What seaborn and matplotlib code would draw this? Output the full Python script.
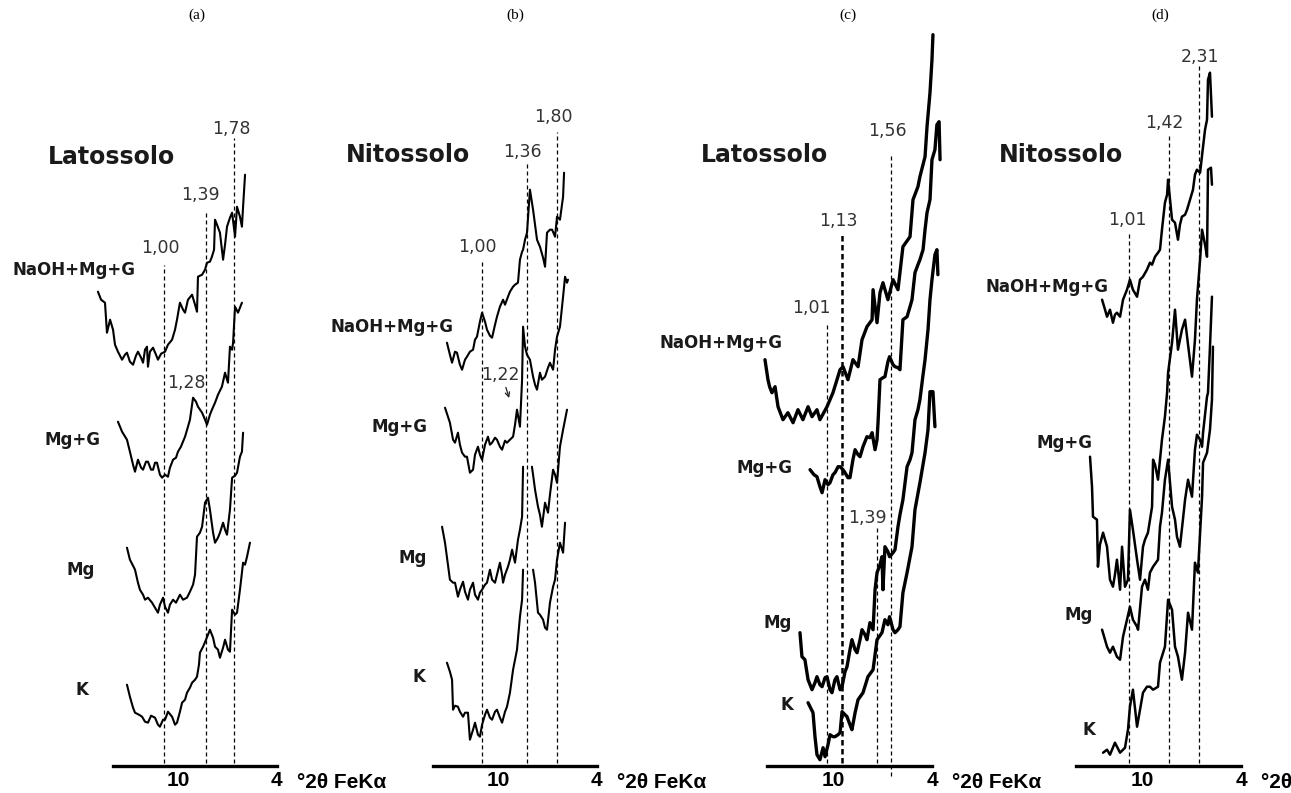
import matplotlib
matplotlib.use("Agg")
import matplotlib.pyplot as plt
import seaborn as sns
import pandas as pd

# ---------------- data (x = degrees 2theta FeKa, y = intensity, arbitrary units) -------------
# Panel (a) Latossolo
a_naoh_x = [14.90,14.71,14.47,14.35,14.16,13.98,13.86,13.68,13.43,13.25,13.13,12.95,12.76,12.58,12.46,12.27,12.15,12.03,11.91,11.85,
            11.73,11.54,11.36,11.24,11.05,10.81,10.63,10.38,10.20,10.08,9.90,9.71,9.59,9.41,9.16,8.98,8.86,8.80,8.55,8.37,
            8.25,8.07,7.95,7.82,7.76,7.64,7.46,7.27,7.15,7.03,6.85,6.72,6.54,6.42,6.24,6.12,6.05,5.93]
a_naoh_y = [474,466,463,433,446,436,421,414,406,411,413,404,401,410,414,408,403,416,419,399,
            414,418,411,406,412,414,421,426,436,446,463,456,453,466,471,461,454,489,491,496,
            503,504,509,516,546,541,533,506,521,539,548,553,529,559,549,539,559,591]
a_mgg_x = [13.68,13.43,13.13,12.95,12.76,12.64,12.46,12.27,12.15,11.97,11.85,11.66,11.54,11.42,11.30,11.12,10.99,10.81,10.63,10.51,
           10.32,10.14,10.02,9.84,9.59,9.41,9.29,9.10,8.92,8.80,8.55,8.37,8.25,8.07,7.95,7.76,7.58,7.34,7.15,7.03,
           6.97,6.85,6.72,6.66,6.54,6.36,6.24,6.12]
a_mgg_y = [344,334,326,314,301,294,306,298,296,304,304,296,296,303,303,291,288,291,289,298,
           306,308,314,319,329,339,346,368,364,359,353,346,341,351,356,363,371,379,393,386,
           383,419,416,423,459,453,458,463]
a_mg_x = [13.13,12.95,12.76,12.64,12.46,12.34,12.15,12.03,11.85,11.60,11.42,11.24,11.12,10.93,10.81,10.63,10.51,10.32,10.14,9.90,
          9.71,9.47,9.29,9.10,8.98,8.86,8.68,8.55,8.37,8.19,8.07,7.88,7.76,7.58,7.46,7.27,7.15,7.03,6.85,6.72,
          6.54,6.42,6.24,6.12,6.05]
a_mg_y = [218,206,200,196,183,176,171,166,168,163,158,153,161,168,159,153,161,166,163,171,
          166,168,174,181,191,229,233,239,263,268,256,233,223,228,233,243,236,231,256,288,
          290,293,309,314,333]
a_k_x = [13.13,12.95,12.76,12.64,12.40,12.21,12.03,11.85,11.66,11.42,11.24,11.12,10.93,10.81,10.63,10.38,10.20,10.08,9.90,9.77,
         9.59,9.47,9.29,9.16,8.98,8.86,8.74,8.68,8.49,8.31,8.07,7.88,7.76,7.58,7.46,7.27,7.15,6.97,6.85,6.72,
         6.54,6.42,6.24,6.05,5.93,5.81,5.63]
a_k_y = [81,69,58,53,51,49,44,43,50,48,41,39,46,46,54,49,41,43,54,63,
         66,73,78,83,86,89,101,113,119,126,136,128,119,116,108,118,126,116,114,156,
         151,153,176,203,201,209,223]

# Panel (b) Nitossolo
b_naoh_x = [13.13,12.95,12.82,12.64,12.52,12.34,12.21,12.03,11.91,11.73,11.54,11.42,11.30,11.12,10.99,10.81,10.69,10.51,10.38,10.20,
            10.08,9.90,9.71,9.59,9.41,9.29,9.10,8.98,8.80,8.68,8.55,8.49,8.37,8.25,8.07,7.88,7.76,7.64,7.46,7.27,
            7.15,7.03,6.85,6.72,6.54,6.42,6.24,6.05,5.99]
b_naoh_y = [423,411,403,414,413,401,396,406,409,414,416,426,429,444,453,444,436,430,428,441,
            449,459,466,461,469,474,479,481,483,506,514,516,526,533,576,556,541,526,519,508,
            499,533,536,536,529,549,546,569,593]
b_mgg_x = [13.25,12.95,12.76,12.64,12.46,12.34,12.21,12.03,11.91,11.73,11.54,11.42,11.24,11.12,10.99,10.81,10.63,10.51,10.38,10.20,
           10.08,9.90,9.77,9.59,9.47,9.29,9.10,8.98,8.86,8.68,8.55,8.49,8.37,8.25,8.07,7.88,7.76,7.64,7.46,7.34,
           7.15,6.97,6.85,6.66,6.54,6.42,6.24,6.05,5.93,5.81,5.75]
b_mgg_y = [358,343,326,323,333,321,313,309,309,293,296,311,319,311,306,321,329,321,323,328,
           326,319,316,325,323,326,329,341,356,339,386,439,419,411,406,389,381,376,393,386,
           389,398,403,396,416,429,439,469,489,483,486]
b_mg_x1 = [13.43,13.25,13.07,12.95,12.76,12.64,12.46,12.34,12.15,12.03,11.85,11.73,11.54,11.42,11.24,11.12,10.99,10.81,10.69,10.51,
           10.38,10.20,10.08,9.90,9.77,9.71,9.59,9.41,9.29,9.16,8.98,8.80,8.68,8.55,8.49]
b_mg_y1 = [239,223,201,186,183,183,169,176,184,174,166,176,183,171,166,173,176,181,183,196,
           186,183,191,203,191,183,191,199,206,216,203,226,236,249,299]
b_mg_x2 = [7.95,7.88,7.76,7.58,7.46,7.34,7.15,6.97,6.85,6.66,6.54,6.42,6.24,6.05,5.93,5.81]
b_mg_y2 = [299,291,276,259,251,239,263,253,271,296,291,283,319,336,346,356]
b_k_x1 = [13.13,12.95,12.82,12.76,12.64,12.46,12.34,12.15,12.03,11.85,11.73,11.54,11.42,11.24,11.12,10.99,10.81,10.69,10.51,10.38,
          10.20,10.08,9.90,9.77,9.59,9.47,9.29,9.10,8.98,8.86,8.68,8.55,8.49]
b_k_y1 = [103,94,86,56,60,59,54,49,53,53,26,36,43,31,29,41,51,56,48,46,
          54,56,48,43,54,59,73,96,106,116,149,166,196]
b_k_x2 = [7.88,7.76,7.58,7.46,7.27,7.15,7.03,6.85,6.66,6.54,6.42,6.24,6.05,5.93]
b_k_y2 = [196,183,153,151,146,138,136,163,179,186,206,223,213,243]

# Panel (c) Latossolo
c_naoh_x = [14.14,13.96,13.86,13.72,13.53,13.35,13.05,12.75,12.44,12.14,11.84,11.53,11.29,10.99,10.81,10.38,10.02,9.59,9.41,9.11,
            8.81,8.50,8.26,7.96,7.65,7.59,7.35,7.17,6.99,6.69,6.38,6.08,5.78,5.35,5.17,4.87,4.75,4.44,4.32,4.14,4.02,3.96]
c_naoh_y = [406,386,379,373,379,359,346,353,343,356,346,359,349,356,346,359,373,396,399,386,
            406,399,426,439,446,476,443,473,483,466,486,476,519,529,566,579,589,609,639,673,706,731]
c_mgg_x = [11.41,11.17,10.99,10.81,10.68,10.50,10.32,10.20,10.02,9.90,9.71,9.59,9.41,9.29,9.11,8.99,8.81,8.68,8.50,8.38,
           8.20,7.96,7.78,7.65,7.47,7.35,7.29,7.17,6.99,6.87,6.69,6.59,6.38,6.26,6.08,5.96,5.78,5.53,5.35,5.23,
           5.05,4.87,4.75,4.56,4.44,4.32,4.14,4.02,3.84,3.72,3.59,3.53]
c_mgg_y = [296,291,289,279,273,286,281,283,291,293,299,299,296,293,288,288,306,316,311,309,
           319,329,328,333,316,326,343,386,388,389,404,409,401,399,398,396,446,449,459,466,
           493,501,506,516,536,553,566,606,616,641,644,606]
c_mg_x = [12.02,11.90,11.72,11.53,11.29,11.11,10.99,10.81,10.68,10.50,10.38,10.20,10.08,9.90,9.78,9.59,9.47,9.29,9.17,8.99,
          8.87,8.68,8.56,8.38,8.26,8.08,7.96,7.78,7.59,7.47,7.35,7.17,7.05,6.99,6.87,6.69,6.59,6.38,6.26,6.08,
          5.96,5.78,5.53,5.35,5.23,5.05,4.87,4.75,4.56,4.44,4.26,4.14,4.02,3.84,3.72,3.66]
c_mg_y = [133,109,106,86,76,83,89,81,79,88,89,76,73,86,89,76,79,94,99,116,
          126,116,113,126,136,131,126,143,136,176,193,201,209,176,219,214,209,213,216,239,
          251,266,299,306,313,346,356,366,391,406,436,466,486,511,516,491]
c_k_x = [11.53,11.23,11.11,10.99,10.81,10.62,10.50,10.32,10.20,10.02,9.90,9.71,9.59,9.47,9.29,9.17,8.99,8.87,8.68,8.50,
         8.20,7.90,7.59,7.35,7.05,6.87,6.69,6.59,6.38,6.26,6.08,5.96,5.78,5.53,5.23,5.05,4.75,4.44,4.26,4.14,3.96,3.84]
c_k_y = [63,53,29,11,6,18,9,21,31,29,29,31,33,54,51,49,41,36,53,66,
         73,89,96,126,133,146,141,149,136,133,136,139,173,193,219,256,283,313,336,374,374,339]

# Panel (d) Nitossolo
d_naoh_x = [12.42,12.24,12.12,11.94,11.76,11.64,11.52,11.33,11.15,10.91,10.73,10.55,10.30,10.12,9.94,9.70,9.52,9.39,9.21,9.03,
            8.91,8.79,8.61,8.48,8.42,8.30,8.18,8.00,7.82,7.70,7.58,7.39,7.27,7.09,6.91,6.79,6.67,6.48,6.30,6.18,6.06,6.00,5.88,5.76]
d_naoh_y = [466,456,449,456,443,451,453,449,466,476,486,476,469,486,489,496,503,501,509,513,
            516,536,563,571,586,566,546,543,526,541,549,551,556,566,576,591,596,593,619,636,646,686,693,649]
d_mgg_x = [13.15,13.03,12.97,12.73,12.67,12.55,12.36,12.12,11.94,11.76,11.64,11.52,11.33,11.21,11.03,10.85,10.73,10.55,10.30,10.12,
           9.94,9.82,9.64,9.39,9.33,9.21,9.03,8.79,8.61,8.48,8.42,8.18,8.00,7.82,7.58,7.39,7.21,6.97,6.79,6.67,
           6.48,6.36,6.18,6.06,6.00,5.82,5.76]
d_mgg_y = [309,279,249,246,199,221,233,219,186,179,191,206,176,219,179,186,256,236,206,186,
           219,226,233,259,306,301,286,326,349,373,393,423,456,416,436,446,421,389,426,466,
           506,536,521,509,596,598,581]
d_mg_x = [12.42,12.12,11.94,11.76,11.52,11.33,11.15,10.91,10.73,10.55,10.30,10.24,10.00,9.82,9.64,9.52,9.33,9.03,8.91,8.79,
          8.61,8.42,8.18,8.00,7.88,7.70,7.52,7.39,7.21,6.97,6.79,6.67,6.48,6.36,6.30,6.06,6.00,5.88,5.76]
d_mg_y = [136,119,113,119,109,106,129,146,159,146,139,136,179,186,176,193,199,206,239,253,
          286,306,259,246,229,219,246,266,286,269,316,331,326,319,333,369,373,419,469]
d_k_x = [12.36,12.12,11.94,11.64,11.33,11.03,10.85,10.73,10.55,10.30,10.12,9.94,9.70,9.52,9.33,9.03,8.91,8.61,8.42,8.18,
         8.00,7.82,7.58,7.39,7.21,6.97,6.79,6.61,6.36,6.30,6.06,5.88,5.76,5.70]
d_k_y = [13,16,11,23,13,18,36,59,76,39,56,73,79,79,76,79,103,119,166,156,
         119,109,86,113,153,136,203,193,269,303,313,336,366,419]

# peak reference lines: positions (2theta), labels
a_peaks = [10.85, 8.29, 6.59]
a_peak_labels = ["1,00", "1,39", "1,78"]
b_peaks = [11.01, 8.23, 6.40]
b_peak_labels = ["1,00", "1,36", "1,80"]
c_peaks = [10.40, 9.49, 7.37, 6.52]
c_peak_labels = ["1,01", "1,13", "1,39", "1,56"]
d_peaks = [10.77, 8.35, 6.53]
d_peak_labels = ["1,01", "1,42", "2,31"]

treatments = ["NaOH+Mg+G", "Mg+G", "Mg", "K"]
soils = ["Latossolo", "Nitossolo", "Latossolo", "Nitossolo"]
panel_tags = ["(a)", "(b)", "(c)", "(d)"]
tick_values = [14, 12, 10, 8, 6, 4]
tick_labels = ["", "", "10", "", "", "4"]

# ---------------- layout / style ----------------
sns.set_style("white")
plt.rcParams['font.family'] = ['DejaVu Sans']
W, H = 1291, 793
AXIS_PX = 765.7
fig = plt.figure(figsize=(W / 100, H / 100), dpi=100)

X_LEFT, X_RIGHT = 15.5, 3.0

panels = [
    dict(L=112.7, s=16.4, lw=1.5,
         curves=[(a_naoh_x, a_naoh_y), (a_mgg_x, a_mgg_y), (a_mg_x, a_mg_y), (a_k_x, a_k_y)],
         peaks=a_peaks, plabels=a_peak_labels, ptops=[501, 556, 628],
         plabpos=[(11.11, 518), (8.62, 571), (6.79, 637)],
         extra_labels=[("1,28", 9.53, 383)],
         tlabpos=[(12.64, 496), (14.77, 326), (15.08, 196), (15.51, 76)],
         soilpos=(10.20, 609)),
    dict(L=432.7, s=16.4, lw=1.5,
         curves=[(b_naoh_x, b_naoh_y), (b_mgg_x, b_mgg_y), (b_mg_x1, b_mg_y1), (b_mg_x2, b_mg_y2),
                 (b_k_x1, b_k_y1), (b_k_x2, b_k_y2)],
         peaks=b_peaks, plabels=b_peak_labels, ptops=[504, 604, 634],
         plabpos=[(11.30, 519), (8.55, 614), (6.66, 649)],
         extra_labels=[("1,22", 9.90, 391)],
         tlabpos=[(12.76, 439), (14.29, 339), (14.35, 208), (14.47, 89)],
         soilpos=(11.73, 611)),
    dict(L=767.3, s=16.5, lw=2.4,
         curves=[(c_naoh_x, c_naoh_y), (c_mgg_x, c_mgg_y), (c_mg_x, c_mg_y), (c_k_x, c_k_y)],
         peaks=c_peaks, plabels=c_peak_labels, ptops=[444, 533, 238, 611],
         plabpos=[(11.35, 458), (9.71, 545), (7.96, 248), (6.69, 635)],
         extra_labels=[],
         tlabpos=[(13.05, 423), (12.50, 298), (12.50, 143), (12.44, 61)],
         soilpos=(10.32, 611)),
    dict(L=1076.0, s=16.5, lw=1.8,
         curves=[(d_naoh_x, d_naoh_y), (d_mgg_x, d_mgg_y), (d_mg_x, d_mg_y), (d_k_x, d_k_y)],
         peaks=d_peaks, plabels=d_peak_labels, ptops=[534, 631, 701],
         plabpos=[(10.91, 546), (8.67, 643), (6.48, 709)],
         extra_labels=[],
         tlabpos=[(12.06, 479), (12.97, 323), (12.97, 151), (12.85, 36)],
         soilpos=(11.15, 611)),
]

tag_x = [197, 515, 848, 1160]

for i, p in enumerate(panels):
    L, s = p["L"], p["s"]
    left_px = L - (X_LEFT - 14) * s
    width_px = (X_LEFT - X_RIGHT) * s
    ax = fig.add_axes([left_px / W, (H - AXIS_PX) / H, width_px / W, AXIS_PX / H])
    ax.set_xlim(X_LEFT, X_RIGHT)
    ax.set_ylim(0, AXIS_PX)
    ax.patch.set_alpha(0)

    # dashed reference lines
    for j, (pk, top) in enumerate(zip(p["peaks"], p["ptops"])):
        thick = (i == 2 and j == 1)
        bottom = -10 if (i == 2 and j == 3) else 3
        ax.plot([pk, pk], [bottom, top], color="black",
                lw=1.8 if thick else 0.9,
                ls=(0, (2.2, 1.4)) if thick else (0, (3.2, 2.4)),
                clip_on=False, zorder=1)
    for lab, (lx, ly) in zip(p["plabels"], p["plabpos"]):
        ax.text(lx, ly, lab, ha="center", va="center", fontsize=12.5, color="#333333")
    for lab, lx, ly in p["extra_labels"]:
        ax.text(lx, ly, lab, ha="center", va="center", fontsize=12.5, color="#333333")
    if i == 1:
        ax.annotate("", xy=(9.29, 365), xytext=(9.59, 381),
                    arrowprops=dict(arrowstyle="->", lw=0.9, color="#222222", mutation_scale=8))

    # diffractograms
    for cx, cy in p["curves"]:
        df = pd.DataFrame({"two_theta": cx, "intensity": cy})
        sns.lineplot(data=df, x="two_theta", y="intensity", sort=False, estimator=None,
                     color="black", lw=p["lw"], ax=ax, zorder=3, clip_on=False)

    # labels
    for lab, (lx, ly) in zip(treatments, p["tlabpos"]):
        ax.text(lx, ly, lab, ha="right", va="center", fontsize=12, fontweight="bold", color="#1a1a1a")
    ax.text(p["soilpos"][0], p["soilpos"][1], soils[i], ha="right", va="center",
            fontsize=17, fontweight="bold", color="#1a1a1a")

    # axis
    for side in ["top", "right", "left"]:
        ax.spines[side].set_visible(False)
    ax.spines["bottom"].set_bounds(4, 14)
    ax.spines["bottom"].set_linewidth(2.4)
    ax.spines["bottom"].set_color("black")
    ax.set_xticks(tick_values)
    ax.set_xticklabels(tick_labels, fontfamily="Liberation Sans", fontweight="bold", fontsize=15)
    ax.tick_params(axis="x", direction="in", length=4, width=1.8, pad=4, colors="black")
    ax.set_yticks([])
    ax.set_xlabel("")
    ax.set_ylabel("")
    ax.text(2.78, -17, "°2θ FeKα", ha="left", va="center", fontsize=15, fontweight="bold",
            fontfamily="Liberation Sans", color="black", clip_on=False)

    fig.text(tag_x[i] / W, 1 - 15 / H, panel_tags[i], ha="center", va="center",
             fontsize=11, fontfamily="Liberation Serif", color="black")

fig.savefig("out.png", dpi=100)
